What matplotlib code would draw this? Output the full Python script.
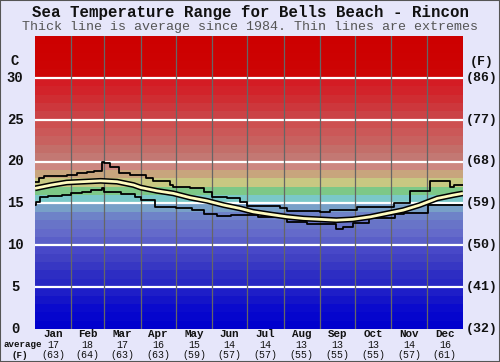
import matplotlib
matplotlib.use("Agg")
import matplotlib.pyplot as plt
import numpy as np

# ---------------- data ----------------
months = ["Jan", "Feb", "Mar", "Apr", "May", "Jun", "Jul", "Aug", "Sep", "Oct", "Nov", "Dec"]
month_days = [31, 28, 31, 30, 31, 30, 31, 31, 30, 31, 30, 31]
avg_c = ["17", "18", "17", "16", "15", "14", "14", "13", "13", "13", "14", "16"]
avg_f = ["(63)", "(64)", "(63)", "(63)", "(59)", "(57)", "(57)", "(55)", "(55)", "(55)", "(57)", "(61)"]

max_days = [0, 3, 8, 27, 36, 44, 50, 57, 59, 64, 72, 81, 95, 101, 115, 118, 132, 144, 151,
            164, 175, 181, 209, 215, 243, 252, 275, 306, 320, 337, 354, 357, 365]
max_vals = [17.6, 18.05, 18.25, 18.45, 18.6, 18.8, 18.85, 20.0, 19.8, 19.4, 18.6, 18.4, 18.0,
            17.7, 17.2, 17.0, 16.8, 16.4, 15.8, 15.6, 15.2, 14.7, 14.4, 14.1, 14.0, 14.2,
            14.6, 15.1, 16.5, 17.7, 17.0, 17.2, 17.2]

avg_days = [0, 14, 27, 41, 56, 70, 84, 90, 104, 118, 132, 147, 161, 175, 186, 200, 215, 229,
            243, 257, 271, 286, 300, 314, 328, 343, 357, 365]
avg_vals = [16.8, 17.2, 17.5, 17.6, 17.7, 17.6, 17.2, 16.9, 16.5, 16.2, 15.7, 15.3, 14.8,
            14.4, 14.0, 13.7, 13.4, 13.2, 13.1, 13.0, 13.1, 13.4, 13.8, 14.2, 14.8, 15.6,
            16.0, 16.2]

min_days = [0, 1, 4, 11, 23, 31, 40, 48, 57, 59, 73, 85, 90, 102, 120, 134, 144, 155, 167,
            190, 215, 232, 257, 263, 271, 285, 307, 315, 335, 365]
min_vals = [14.8, 15.2, 15.8, 15.9, 16.0, 16.2, 16.4, 16.6, 16.9, 16.4, 16.1, 15.8, 15.4,
            14.6, 14.4, 14.2, 13.7, 13.5, 13.6, 13.4, 12.8, 12.6, 11.9, 12.2, 12.7, 13.3,
            13.7, 13.9, 14.8, 14.8]

c_ticks = [0, 5, 10, 15, 20, 25, 30]
f_ticks = ["(32)", "(41)", "(50)", "(59)", "(68)", "(77)", "(86)"]

# background band colours, one per degree from 0 to 34
band_rgb = [
    (0, 0, 205), (5, 5, 205), (10, 10, 205), (20, 20, 200), (30, 30, 200),
    (40, 40, 195), (45, 45, 195), (55, 55, 195), (65, 65, 195), (72, 72, 200),
    (90, 95, 200), (100, 106, 202), (104, 116, 200), (110, 130, 200), (120, 160, 200),
    (122, 200, 200), (125, 200, 135), (200, 200, 130), (200, 165, 125), (205, 135, 128),
    (195, 120, 115), (195, 110, 105), (200, 97, 95), (203, 88, 88), (205, 80, 80),
    (203, 66, 70), (205, 55, 60), (207, 45, 50), (210, 35, 42), (212, 28, 36),
    (205, 5, 5), (205, 3, 3), (205, 2, 2), (205, 1, 1), (205, 0, 0)]

# ---------------- figure ----------------
bg = "#e6e6fa"
fig = plt.figure(figsize=(5.0, 3.62), dpi=100, facecolor=bg)
W, H = 500, 362
L, R, T, B = 35, 463, 36, 329
ax = fig.add_axes([L / W, 1 - B / H, (R - L) / W, (B - T) / H])
ax.set_xlim(0, 365)
ax.set_ylim(0, 35)
ax.axis("off")

for i, c in enumerate(band_rgb):
    ax.axhspan(i, i + 1, color=np.array(c) / 255.0, lw=0, zorder=0)

for t in c_ticks[1:]:
    ax.axhline(t, color="white", lw=1.6, zorder=1)

bounds = np.cumsum(month_days)
for b in bounds[:-1]:
    ax.axvline(b, color="#666666", lw=0.9, zorder=2)

ax.step(max_days, max_vals, where="post", color="black", lw=1.3, zorder=3)
ax.step(min_days, min_vals, where="post", color="black", lw=1.3, zorder=3)
ax.plot(avg_days, avg_vals, color="black", lw=4.2, zorder=4, solid_capstyle="butt")
ax.plot(avg_days, avg_vals, color="#fffcc0", lw=2.0, zorder=5, solid_capstyle="butt")

# border of whole figure
fig.add_artist(plt.Rectangle((0, 0), 1, 1, transform=fig.transFigure, fill=False,
                             ec="#555555", lw=1.5))

mono = "Liberation Mono"
fig.text(0.5, 1 - 12 / H, "Sea Temperature Range for Bells Beach - Rincon", ha="center",
         va="center", family=mono, weight="bold", fontsize=11.3, color="#111111")
fig.text(0.5, 1 - 27 / H, "Thick line is average since 1984. Thin lines are extremes",
         ha="center", va="center", family=mono, fontsize=9.6, color="#555555")

# y labels
for t, f in zip(c_ticks, f_ticks):
    y = 1 - (329 - 8.38 * t) / H
    fig.text(15 / W, y, str(t), ha="center", va="center", family=mono, fontsize=10,
             weight="bold", color="#111111")
    fig.text(482 / W, y, f, ha="center", va="center", family=mono, fontsize=9.5,
             weight="bold", color="#111111")
fig.text(15 / W, 1 - 61 / H, "C", ha="center", va="center", family=mono, fontsize=10,
         weight="bold", color="#111111")
fig.text(482 / W, 1 - 62 / H, "(F)", ha="center", va="center", family=mono, fontsize=9.5,
         weight="bold", color="#111111")

# month labels
starts = np.concatenate([[0], bounds[:-1]])
for m, s, n, c, f in zip(months, starts, month_days, avg_c, avg_f):
    xc = (L + (s + n / 2) * (R - L) / 365) / W
    fig.text(xc, 1 - 334 / H, m, ha="center", va="center", family=mono, fontsize=7.8,
             weight="bold", color="#111111")
    fig.text(xc, 1 - 344.5 / H, c, ha="center", va="center", family=mono, fontsize=7.2,
             color="#111111")
    fig.text(xc, 1 - 355 / H, f, ha="center", va="center", family=mono, fontsize=7.2,
             color="#111111")
fig.text(23 / W, 1 - 344.5 / H, "average", ha="center", va="center", family=mono,
         fontsize=6.6, weight="bold", color="#111111")
fig.text(20 / W, 1 - 355 / H, "(F)", ha="center", va="center", family=mono,
         fontsize=6.6, weight="bold", color="#111111")

fig.savefig("out.png", dpi=100, facecolor=bg)
